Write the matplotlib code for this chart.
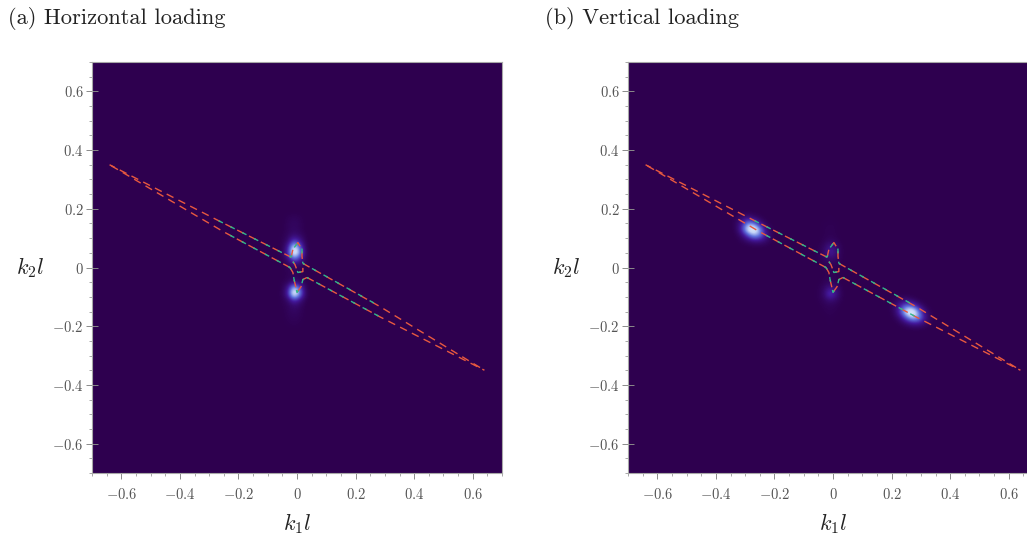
import numpy as np
import matplotlib
matplotlib.use("Agg")
import matplotlib.pyplot as plt
from matplotlib.colors import LinearSegmentedColormap
from matplotlib.ticker import FixedLocator, FixedFormatter

plt.rcParams['mathtext.fontset'] = 'cm'
plt.rcParams['font.family'] = ['cmr10', 'DejaVu Serif']
plt.rcParams['axes.unicode_minus'] = False

titles = ["(a) Horizontal loading", "(b) Vertical loading"]
major_ticks = [-0.6, -0.4, -0.2, 0, 0.2, 0.4, 0.6]
tick_labels = [r"$-0.6$", r"$-0.4$", r"$-0.2$", r"$0$", r"$0.2$", r"$0.4$", r"$0.6$"]
minor_ticks = [-0.7, -0.65, -0.55, -0.5, -0.45, -0.35, -0.3, -0.25, -0.15, -0.1, -0.05,
               0.05, 0.1, 0.15, 0.25, 0.3, 0.35, 0.45, 0.5, 0.55, 0.65, 0.7]

# arms, each one read from the middle out to its tip
upper_left_k1 = [-0.02, -0.263, -0.64]
upper_left_k2 = [0.035, 0.157, 0.35]
lower_left_k1 = [-0.024, -0.253, -0.64]
lower_left_k2 = [0.0, 0.123, 0.35]
upper_right_k1 = [0.02, 0.283, 0.64]
upper_right_k2 = [0.014, -0.133, -0.35]
lower_right_k1 = [0.034, 0.283, 0.64]
lower_right_k2 = [-0.034, -0.168, -0.35]
arms = [(upper_left_k1, upper_left_k2), (lower_left_k1, lower_left_k2),
        (upper_right_k1, upper_right_k2), (lower_right_k1, lower_right_k2)]

# shorter arms of the inner branch
inner_upper_left_k1 = [-0.02, -0.263, -0.29]
inner_upper_left_k2 = [0.035, 0.157, 0.170]
inner_lower_left_k1 = [-0.024, -0.253]
inner_lower_left_k2 = [0.0, 0.123]
inner_upper_right_k1 = [0.02, 0.27]
inner_upper_right_k2 = [0.014, -0.125]
inner_lower_right_k1 = [0.034, 0.283, 0.295]
inner_lower_right_k2 = [-0.034, -0.168, -0.175]
inner_arms = [(inner_upper_left_k1, inner_upper_left_k2), (inner_lower_left_k1, inner_lower_left_k2),
              (inner_upper_right_k1, inner_upper_right_k2), (inner_lower_right_k1, inner_lower_right_k2)]

# loops around the middle
top_loop_k1 = [-0.02, -0.014, 0.003, 0.017, 0.017, 0.02]
top_loop_k2 = [0.035, 0.062, 0.085, 0.062, 0.038, 0.014]
bottom_loop_k1 = [-0.024, -0.014, -0.01, 0.0, 0.014, 0.02, 0.034]
bottom_loop_k2 = [0.0, -0.017, -0.041, -0.085, -0.065, -0.041, -0.034]
hook_k1 = [-0.014, -0.007, 0.003, 0.02, 0.02]
hook_k2 = [0.02, 0.01, -0.017, -0.014, 0.0]
loops = [(top_loop_k1, top_loop_k2), (bottom_loop_k1, bottom_loop_k2), (hook_k1, hook_k2)]

# intensity read by eye, rows top to bottom, cells 0.02 wide
centre_k1 = -0.02
centre_k2 = 0.0
streak_a = [
    [0.00, 0.02, 0.03, 0.02, 0.00],
    [0.00, 0.03, 0.05, 0.03, 0.00],
    [0.00, 0.03, 0.05, 0.03, 0.00],
    [0.01, 0.04, 0.10, 0.06, 0.01],
    [0.01, 0.08, 0.35, 0.18, 0.01],
    [0.01, 0.20, 0.85, 0.42, 0.02],
    [0.02, 0.26, 1.00, 0.55, 0.03],
    [0.01, 0.10, 0.48, 0.24, 0.02],
    [0.01, 0.03, 0.08, 0.05, 0.01],
    [0.00, 0.02, 0.03, 0.02, 0.00],
    [0.00, 0.02, 0.03, 0.02, 0.00],
    [0.01, 0.03, 0.10, 0.05, 0.01],
    [0.01, 0.18, 0.75, 0.38, 0.02],
    [0.02, 0.24, 1.00, 0.52, 0.03],
    [0.01, 0.07, 0.30, 0.14, 0.01],
    [0.01, 0.03, 0.08, 0.05, 0.00],
    [0.00, 0.03, 0.05, 0.03, 0.00],
    [0.00, 0.02, 0.03, 0.02, 0.00],
    [0.00, 0.01, 0.02, 0.01, 0.00],
]
streak_b = [
    [0.00, 0.00, 0.01, 0.00, 0.00],
    [0.00, 0.01, 0.01, 0.01, 0.00],
    [0.00, 0.01, 0.02, 0.01, 0.00],
    [0.00, 0.01, 0.02, 0.01, 0.00],
    [0.00, 0.02, 0.05, 0.03, 0.00],
    [0.01, 0.05, 0.18, 0.10, 0.01],
    [0.01, 0.07, 0.22, 0.12, 0.01],
    [0.01, 0.04, 0.08, 0.06, 0.01],
    [0.00, 0.02, 0.03, 0.02, 0.00],
    [0.00, 0.01, 0.02, 0.01, 0.00],
    [0.00, 0.01, 0.02, 0.01, 0.00],
    [0.00, 0.02, 0.04, 0.02, 0.00],
    [0.01, 0.05, 0.16, 0.09, 0.01],
    [0.01, 0.08, 0.34, 0.16, 0.01],
    [0.01, 0.04, 0.10, 0.06, 0.01],
    [0.00, 0.02, 0.03, 0.02, 0.00],
    [0.00, 0.01, 0.02, 0.01, 0.00],
    [0.00, 0.00, 0.01, 0.00, 0.00],
    [0.00, 0.00, 0.01, 0.00, 0.00],
]
spot_b_left_k = (-0.27, 0.14)
spot_b_left = [
    [0.02, 0.08, 0.12, 0.06, 0.02, 0.00, 0.00],
    [0.04, 0.20, 0.55, 0.45, 0.15, 0.03, 0.00],
    [0.03, 0.30, 0.85, 1.00, 0.60, 0.12, 0.02],
    [0.01, 0.10, 0.35, 0.62, 0.50, 0.20, 0.03],
    [0.00, 0.02, 0.06, 0.12, 0.12, 0.07, 0.01],
]
spot_b_right_k = (0.26, -0.145)
spot_b_right = [
    [0.03, 0.06, 0.08, 0.04, 0.01, 0.00, 0.00],
    [0.06, 0.22, 0.42, 0.36, 0.14, 0.03, 0.00],
    [0.05, 0.32, 0.82, 1.00, 0.58, 0.14, 0.02],
    [0.02, 0.12, 0.40, 0.70, 0.60, 0.24, 0.04],
    [0.00, 0.02, 0.08, 0.16, 0.18, 0.10, 0.02],
]

cell = 0.02
n_cells = 70
kmax = 0.7


def put_patch(field, values, k1, k2):
    values = np.array(values)
    row = int(round((kmax - k2) / cell)) - values.shape[0] // 2
    col = int(round((k1 + kmax) / cell)) - values.shape[1] // 2
    field[row:row + values.shape[0], col:col + values.shape[1]] += values


field_a = np.zeros((n_cells, n_cells))
put_patch(field_a, streak_a, centre_k1, centre_k2)
field_b = np.zeros((n_cells, n_cells))
put_patch(field_b, streak_b, centre_k1, centre_k2)
put_patch(field_b, spot_b_left, *spot_b_left_k)
put_patch(field_b, spot_b_right, *spot_b_right_k)

cmap = LinearSegmentedColormap.from_list(
    "spots", [(0, "#2e004f"), (0.2, "#43189a"), (0.45, "#5f70dc"), (0.7, "#c5d5f8"), (1, "#ffffff")])

red = "#e8593f"
green = "#2fb98c"
dash_red = (0, (5.5, 4))
dash_green = (2, (3.5, 6))

fig = plt.figure(figsize=(10.27, 5.41), dpi=100)
W, H = 1027.0, 541.0

panels = [(92, field_a), (628, field_b)]
title_x = [8, 545]
for i, (left, field) in enumerate(panels):
    ax = fig.add_axes([left / W, (H - 473) / H, 410 / W, 411 / H])
    ax.imshow(field, cmap=cmap, vmin=0, vmax=1, extent=[-kmax, kmax, -kmax, kmax],
              origin="upper", interpolation="bicubic", aspect="auto")
    for k1, k2 in arms + loops:
        ax.plot(k1, k2, color=red, lw=1.0, linestyle=dash_red)
    for k1, k2 in inner_arms + loops:
        ax.plot(k1, k2, color=green, lw=1.0, linestyle=dash_green)
    ax.set_xlim(-kmax, kmax)
    ax.set_ylim(-kmax, kmax)
    for axis in (ax.xaxis, ax.yaxis):
        axis.set_major_locator(FixedLocator(major_ticks))
        axis.set_major_formatter(FixedFormatter(tick_labels))
        axis.set_minor_locator(FixedLocator(minor_ticks))
    ax.tick_params(which="major", length=4, width=0.7, color="#8a8a8a", labelcolor="#555555",
                   labelsize=10.5)
    ax.tick_params(which="minor", length=2.5, width=0.6, color="#9a9a9a")
    ax.tick_params(axis="x", which="major", pad=6)
    ax.tick_params(axis="y", which="major", direction="inout", length=9, pad=1.5)
    for side in ax.spines.values():
        side.set_color("#a8a8a8")
        side.set_linewidth(0.8)
    ax.set_xlabel(r"$k_1 l$", fontsize=16, color="#222222", labelpad=7)
    ax.set_ylabel(r"$k_2 l$", fontsize=16, color="#222222", rotation=0, labelpad=16, va="center")
    fig.text(title_x[i] / W, (H - 18) / H, titles[i], fontsize=16.2, color="#222222", va="center")

fig.savefig("out.png", dpi=100)
